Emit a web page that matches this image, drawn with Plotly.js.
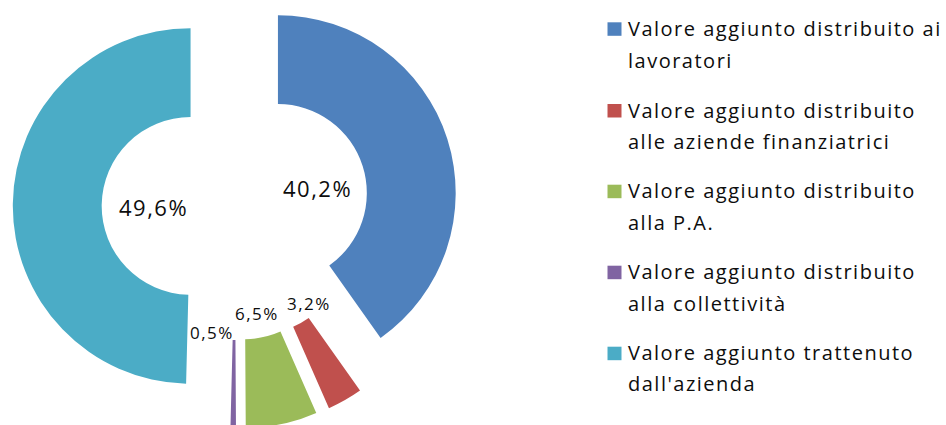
<!DOCTYPE html>
<html>
<head>
<meta charset="utf-8">
<script src="https://cdn.plot.ly/plotly-3.0.1.min.js"></script>
<style>
html, body { margin: 0; padding: 0; background: #ffffff; overflow: hidden; width: 946px; height: 425px; }
#chart { position: absolute; left: 0; top: -16px; width: 946px; height: 445px; }
.annotation-text { letter-spacing: 1.5px; }
</style>
</head>
<body>
<div id="chart"></div>
<script>
// ---- data ----
const categories = [
  "Valore aggiunto distribuito ai lavoratori",
  "Valore aggiunto distribuito alle aziende finanziatrici",
  "Valore aggiunto distribuito alla P.A.",
  "Valore aggiunto distribuito alla collettività",
  "Valore aggiunto trattenuto dall'azienda"
];
const values = [40.2, 3.2, 6.5, 0.5, 49.6];
const legendLine1 = [
  "Valore aggiunto distribuito ai",
  "Valore aggiunto distribuito",
  "Valore aggiunto distribuito",
  "Valore aggiunto distribuito",
  "Valore aggiunto trattenuto"
];
const legendLine2 = [
  "lavoratori",
  "alle aziende finanziatrici",
  "alla P.A.",
  "alla collettività",
  "dall'azienda"
];
const colors = ["#4F81BD", "#C0504D", "#9BBB59", "#8064A2", "#4BACC6"];

// ---- layout constants (pixels in the 946x425 page) ----
const W = 946, H = 445, TOP = -16;
const FONT = "'Open Sans', 'Noto Sans', sans-serif";
const labelPos = [[317, 188], [309, 303], [257, 313], [212, 332], [153, 207]];
const labelSize = [22, 17, 17, 17, 22];
const legendY1 = [28.3, 110, 190.7, 271.7, 352.7];
const legendY2 = [60, 141.7, 222.7, 303.3, 383.3];
const legendTextX = 626;
const squareX = [607.5, 621.5];

function px(x) { return x / W; }
function py(y) { return 1 - (y - TOP) / H; }
function fmt(v) { return v.toFixed(1).replace('.', ',') + '%'; }

const annotations = [];
const shapes = [];
values.forEach((v, i) => {
  annotations.push({
    xref: 'paper', yref: 'paper', x: px(labelPos[i][0]), y: py(labelPos[i][1]),
    xanchor: 'center', yanchor: 'middle', showarrow: false,
    text: fmt(v),
    font: { family: FONT, size: labelSize[i], color: '#0d0d0d' }
  });
  annotations.push({
    xref: 'paper', yref: 'paper', x: px(legendTextX), y: py(legendY1[i]),
    xanchor: 'left', yanchor: 'middle', showarrow: false,
    text: legendLine1[i], font: { family: FONT, size: 20, color: '#0d0d0d' }
  });
  annotations.push({
    xref: 'paper', yref: 'paper', x: px(legendTextX), y: py(legendY2[i]),
    xanchor: 'left', yanchor: 'middle', showarrow: false,
    text: legendLine2[i], font: { family: FONT, size: 20, color: '#0d0d0d' }
  });
  shapes.push({
    type: 'rect', xref: 'paper', yref: 'paper',
    x0: px(squareX[0]), x1: px(squareX[1]),
    y0: py(legendY1[i] + 7.5), y1: py(legendY1[i] - 6),
    fillcolor: colors[i], line: { width: 0 }
  });
});

const trace = {
  type: 'pie',
  labels: categories,
  values: values,
  sort: false,
  direction: 'clockwise',
  rotation: 0,
  hole: 0.5,
  pull: 0.2517,
  textinfo: 'none',
  hoverinfo: 'label+percent',
  marker: { colors: colors, line: { width: 0 } },
  domain: { x: [0, 470.6 / W], y: [0, 1] },
  showlegend: false
};

const layout = {
  width: W, height: H,
  margin: { l: 0, r: 0, t: 0, b: 0 },
  paper_bgcolor: '#ffffff',
  showlegend: false,
  annotations: annotations,
  shapes: shapes
};

Plotly.newPlot('chart', [trace], layout, { displayModeBar: false, staticPlot: true });
</script>
</body>
</html>
